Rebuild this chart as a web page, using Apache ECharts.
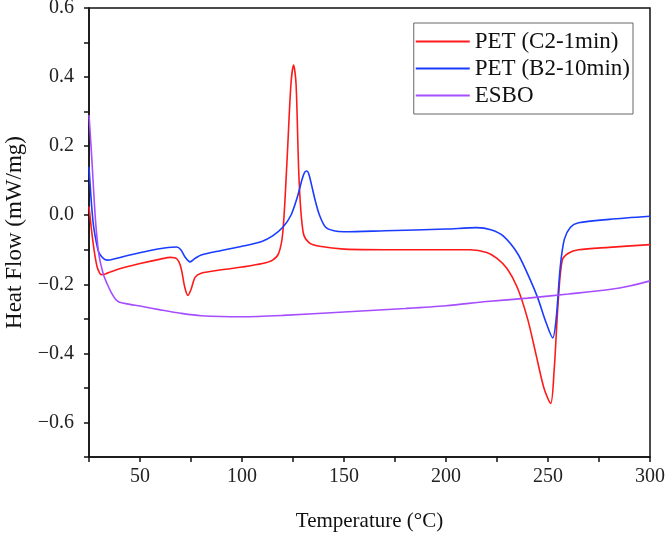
<!DOCTYPE html>
<html>
<head>
<meta charset="utf-8">
<script src="https://cdn.jsdelivr.net/npm/echarts@6/dist/echarts.min.js"></script>
<style>
  html, body { margin: 0; padding: 0; background: #fff; }
  #chart { width: 665px; height: 536px; }
</style>
</head>
<body>
<div id="chart"></div>
<script>
// DSC curves: [temperature (°C), heat flow (mW/mg)]
var petC2 = [
  [25, 0.025], [26, -0.03], [27, -0.08], [28, -0.12], [29, -0.15], [30, -0.165], [31, -0.172],
  [33, -0.17], [36, -0.163], [40, -0.155], [50, -0.14], [60, -0.127], [65, -0.122], [68, -0.126],
  [70, -0.15], [72, -0.21], [73.5, -0.232], [75, -0.215], [77, -0.18], [80, -0.168], [90, -0.158],
  [100, -0.15], [110, -0.14], [115, -0.13], [118, -0.11], [120, -0.05], [122, 0.15], [124, 0.38],
  [125.3, 0.435], [126.5, 0.38], [128, 0.1], [130, -0.05], [133, -0.08], [138, -0.09], [150, -0.098],
  [180, -0.1], [212, -0.1], [220, -0.108], [225, -0.125], [230, -0.155], [235, -0.21], [240, -0.3],
  [244, -0.4], [248, -0.5], [251.3, -0.545], [253, -0.45], [255, -0.25], [257, -0.13], [260, -0.11],
  [265, -0.1], [280, -0.093], [300, -0.085]
];
var petB2 = [
  [25, 0.14], [26, 0.05], [27, -0.02], [28, -0.06], [29, -0.09], [30, -0.11], [32, -0.125],
  [34, -0.13], [37, -0.127], [45, -0.115], [55, -0.102], [62, -0.095], [68, -0.092], [70, -0.1],
  [72, -0.12], [74.5, -0.135], [77, -0.125], [80, -0.115], [90, -0.102], [100, -0.09], [110, -0.075],
  [115, -0.06], [120, -0.035], [124, 0.0], [127, 0.05], [129.5, 0.105], [130.7, 0.124], [131.7, 0.128],
  [132.7, 0.12], [134, 0.09], [136, 0.04], [138, 0.0], [141, -0.035], [145, -0.045], [150, -0.048],
  [170, -0.045], [200, -0.04], [215, -0.036], [222, -0.042], [228, -0.06], [235, -0.11], [240, -0.17],
  [245, -0.24], [249, -0.31], [252.3, -0.355], [254, -0.3], [256, -0.15], [258, -0.07], [261, -0.035],
  [265, -0.022], [280, -0.012], [300, -0.003]
];
var esbo = [
  [25, 0.29], [26, 0.2], [27, 0.1], [28, 0.0], [29, -0.07], [30, -0.12], [32, -0.17], [34, -0.2],
  [36, -0.225], [38, -0.243], [40, -0.252], [45, -0.258], [50, -0.263], [60, -0.274], [70, -0.284],
  [80, -0.291], [100, -0.294], [120, -0.29], [150, -0.28], [180, -0.27], [200, -0.262], [220, -0.25],
  [240, -0.24], [260, -0.228], [280, -0.215], [290, -0.205], [300, -0.19]
];
var seriesNames = ['PET (C2-1min)', 'PET (B2-10min)', 'ESBO'];
var seriesColors = ['#ff1a1a', '#1a3cff', '#a64dff'];

var font = 'Liberation Serif';
var option = {
  animation: false,
  grid: {
    left: 89, right: 15, top: 8, bottom: 79,
    outerBoundsMode: 'none',
    show: true, borderColor: '#111', borderWidth: 1.5
  },
  legend: {
    orient: 'vertical',
    right: 32, top: 23,
    itemWidth: 54, itemHeight: 2, itemGap: 4,
    icon: 'rect',
    borderColor: '#666', borderWidth: 1, borderRadius: 0,
    padding: [7, 3, 7, 2],
    textStyle: { fontFamily: font, fontSize: 23, color: '#111' },
    data: seriesNames
  },
  xAxis: {
    type: 'value', min: 25, max: 300, interval: 25,
    name: 'Temperature (°C)', nameLocation: 'middle', nameGap: 54,
    nameTextStyle: { fontFamily: font, fontSize: 21, color: '#111' },
    axisLine: { onZero: false, lineStyle: { color: '#111', width: 1.5 } },
    axisTick: { show: true, length: 5, lineStyle: { color: '#111', width: 1.5 } },
    axisLabel: {
      fontFamily: font, fontSize: 20, color: '#222', margin: 10,
      formatter: function (v) { return v % 50 === 0 ? String(v) : ''; }
    },
    splitLine: { show: false }
  },
  yAxis: {
    type: 'value', min: -0.7, max: 0.6, interval: 0.1,
    name: 'Heat Flow (mW/mg)', nameLocation: 'middle', nameGap: 56, nameRotate: 90,
    nameTextStyle: { fontFamily: font, fontSize: 23, color: '#111' },
    axisLine: { onZero: false, lineStyle: { color: '#111', width: 1.5 } },
    axisTick: { show: true, length: 5, lineStyle: { color: '#111', width: 1.5 } },
    axisLabel: {
      fontFamily: font, fontSize: 20, color: '#222', margin: 15,
      formatter: function (v) {
        var k = Math.round(v * 10);
        if (k % 2 !== 0) return '';
        var s = Math.abs(v).toFixed(1);
        return k < 0 ? '\u2212' + s : s;
      }
    },
    splitLine: { show: false }
  },
  series: [petC2, petB2, esbo].map(function (d, i) {
    return {
      name: seriesNames[i], type: 'line', data: d,
      smooth: 0.3, showSymbol: false,
      lineStyle: { color: seriesColors[i], width: 1.6 },
      itemStyle: { color: seriesColors[i] }
    };
  })
};
var myChart = echarts.init(document.getElementById('chart'));
myChart.setOption(option);
</script>
</body>
</html>
